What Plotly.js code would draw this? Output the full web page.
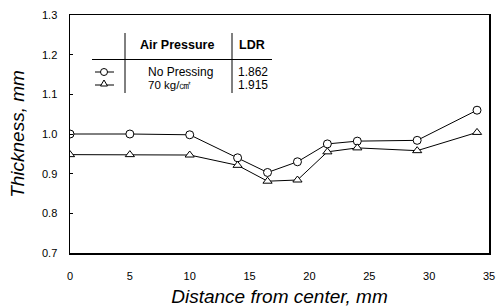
<!DOCTYPE html>
<html><head><meta charset="utf-8">
<script src="https://cdn.plot.ly/plotly-3.0.1.min.js"></script>
<style>html,body{margin:0;padding:0;background:#fff}#c{width:497px;height:307px}</style>
</head><body><div id="c"></div>
<script>
var distance = [0, 5, 10, 14, 16.5, 19, 21.5, 24, 29, 34];
var noPressing = [1.000, 1.000, 0.998, 0.940, 0.903, 0.930, 0.975, 0.982, 0.984, 1.060];
var press70 = [0.948, 0.948, 0.947, 0.921, 0.881, 0.884, 0.955, 0.965, 0.958, 1.004];
var xTicks = [0, 5, 10, 15, 20, 25, 30, 35];
var yTicks = [0.7, 0.8, 0.9, 1.0, 1.1, 1.2, 1.3];
var yTickText = ['0.7', '0.8', '0.9', '1.0', '1.1', '1.2', '1.3'];
var seriesNames = ['No Pressing', '70 kg/㎠'];
var ldr = ['1.862', '1.915'];

var fnt = 'Liberation Sans, Arial, sans-serif';
var traces = [
  {x: distance, y: noPressing, name: seriesNames[0], mode: 'lines+markers', type: 'scatter',
   line: {color: '#000', width: 1},
   marker: {symbol: 'circle', size: 8, color: '#fff', line: {color: '#000', width: 1}}},
  {x: distance, y: press70, name: seriesNames[1], mode: 'lines+markers', type: 'scatter',
   line: {color: '#000', width: 1},
   marker: {symbol: 'triangle-up', size: 8, color: '#fff', line: {color: '#000', width: 1}}}
];

// legend table (paper coords)
var W = 419, H = 238; // plot area px
function px(x){ return (x - 70) / W; }
function py(y){ return (253 - y) / H; }
var shapes = [
  {type: 'line', xref: 'paper', yref: 'paper', x0: px(125), x1: px(125), y0: py(33), y1: py(93), line: {color: '#000', width: 1}},
  {type: 'line', xref: 'paper', yref: 'paper', x0: px(232), x1: px(232), y0: py(33), y1: py(93), line: {color: '#000', width: 1}},
  {type: 'line', xref: 'paper', yref: 'paper', x0: px(92), x1: px(272), y0: py(59.5), y1: py(59.5), line: {color: '#000', width: 1}},
  {type: 'line', xref: 'paper', yref: 'paper', x0: px(95), x1: px(114), y0: py(72), y1: py(72), line: {color: '#000', width: 1}},
  {type: 'circle', xref: 'paper', yref: 'paper', x0: px(100.5), x1: px(107.5), y0: py(68.5), y1: py(75.5), fillcolor: '#fff', line: {color: '#000', width: 1}},
  {type: 'line', xref: 'paper', yref: 'paper', x0: px(95), x1: px(114), y0: py(85), y1: py(85), line: {color: '#000', width: 1}},
  {type: 'path', xref: 'paper', yref: 'paper',
   path: 'M ' + px(100.5) + ',' + py(86) + ' L ' + px(107.5) + ',' + py(86) + ' L ' + px(104) + ',' + py(80) + ' Z',
   fillcolor: '#fff', line: {color: '#000', width: 1}}
];
var annotations = [
  {xref: 'paper', yref: 'paper', x: px(177), y: py(45), text: '<b>Air Pressure</b>', showarrow: false, xanchor: 'center', yanchor: 'middle', font: {family: fnt, size: 12.5, color: '#000'}},
  {xref: 'paper', yref: 'paper', x: px(237), y: py(45), text: '<b>LDR</b>', showarrow: false, xanchor: 'left', yanchor: 'middle', font: {family: fnt, size: 12.5, color: '#000'}},
  {xref: 'paper', yref: 'paper', x: px(146), y: py(71.5), text: seriesNames[0], showarrow: false, xanchor: 'left', yanchor: 'middle', font: {family: fnt, size: 12, color: '#000'}},
  {xref: 'paper', yref: 'paper', x: px(146), y: py(85.5), text: seriesNames[1], showarrow: false, xanchor: 'left', yanchor: 'middle', font: {family: fnt, size: 11.5, color: '#000'}},
  {xref: 'paper', yref: 'paper', x: px(236), y: py(71.5), text: ldr[0], showarrow: false, xanchor: 'left', yanchor: 'middle', font: {family: fnt, size: 12, color: '#000'}},
  {xref: 'paper', yref: 'paper', x: px(236), y: py(85.5), text: ldr[1], showarrow: false, xanchor: 'left', yanchor: 'middle', font: {family: fnt, size: 12, color: '#000'}}
];

var layout = {
  width: 497, height: 307,
  margin: {l: 70, r: 8, t: 15, b: 54},
  paper_bgcolor: '#fff', plot_bgcolor: '#fff',
  showlegend: false,
  font: {family: fnt, color: '#000'},
  xaxis: {range: [0, 35], tickvals: xTicks, ticktext: xTicks.map(String),
    showgrid: false, zeroline: false, showline: true, linecolor: '#000', linewidth: 1.5, mirror: true,
    ticks: '', ticklabelstandoff: 12, tickfont: {size: 11, family: fnt, color: '#000'}, automargin: false,
    title: {text: '<i>Distance from center, mm</i>', font: {size: 19, family: fnt, color: '#000'}, standoff: 9}},
  yaxis: {range: [0.7, 1.3], tickvals: yTicks, ticktext: yTickText,
    showgrid: false, zeroline: false, showline: true, linecolor: '#000', linewidth: 1.5, mirror: true,
    ticks: 'inside', ticklen: 3, tickcolor: '#000', ticklabelstandoff: 9, automargin: false,
    tickfont: {size: 11, family: fnt, color: '#000'},
    title: {text: '<i>Thickness, mm</i>', font: {size: 19, family: fnt, color: '#000'}, standoff: 12}},
  shapes: shapes,
  annotations: annotations
};
Plotly.newPlot('c', traces, layout, {displayModeBar: false, staticPlot: true});
</script></body></html>
